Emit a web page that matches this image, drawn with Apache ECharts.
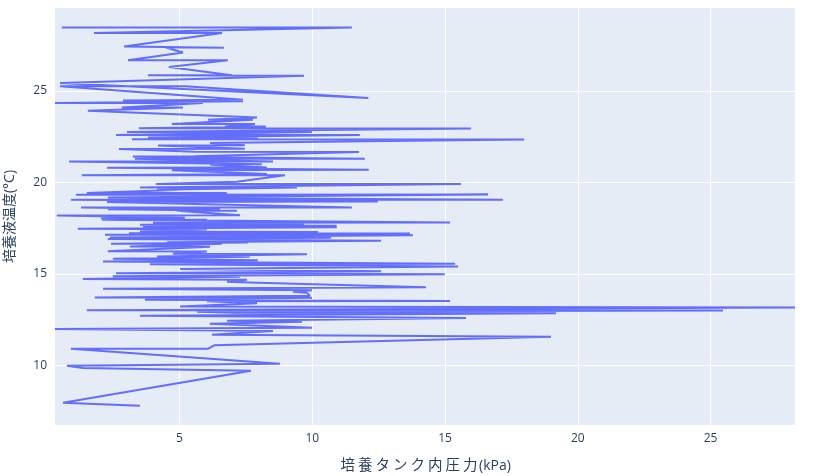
<!DOCTYPE html>
<html><head><meta charset="utf-8">
<script src="https://cdn.jsdelivr.net/npm/echarts@6/dist/echarts.min.js"></script>
<style>html,body{margin:0;padding:0;background:#fff}#c{width:814px;height:476px}</style>
</head><body><div id="c"></div>
<script>
const pressure = [3.51,0.61,7.69,1.36,0.76,8.78,0.91,6.07,6.30,18.99,6.22,8.52,0.31,9.99,6.14,9.61,6.79,15.79,3.51,19.18,7.16,5.66,25.47,1.51,28.18,5.02,7.92,6.03,15.19,3.70,9.99,1.81,9.91,9.80,9.27,9.99,2.12,14.28,7.95,6.79,7.54,1.36,7.27,2.49,14.99,2.61,12.59,5.02,15.49,3.89,15.38,2.12,7.95,2.49,7.65,4.15,9.80,4.75,6.03,2.30,6.15,3.13,6.60,2.42,7.58,4.53,12.59,2.30,10.71,2.38,13.79,2.19,13.68,3.10,10.22,3.51,6.03,1.17,10.92,3.62,10.92,3.51,9.69,4.00,15.19,2.08,6.03,2.04,5.20,0.38,7.28,4.90,7.16,2.30,6.52,1.29,11.49,2.27,12.47,0.91,17.18,2.30,16.62,1.10,6.78,1.51,5.13,4.15,9.42,3.51,15.60,4.11,7.16,8.97,1.32,8.29,4.71,12.13,2.27,8.29,6.15,8.10,0.84,8.52,3.32,11.98,3.24,5.58,11.76,5.58,2.72,7.46,4.19,7.46,6.15,17.98,3.21,7.95,3.81,11.79,2.61,9.99,3.02,15.98,3.47,8.25,6.71,7.84,4.71,7.76,6.07,7.92,1.55,5.13,2.83,5.88,0.31,7.39,2.87,7.39,0.50,5.20,12.11,0.50,9.69,3.81,6.97,4.60,6.82,3.06,5.13,4.45,6.67,2.91,6.60,1.78,11.49,0.57];
const temperature = [7.80,7.96,9.71,9.87,9.98,10.09,10.91,10.91,11.10,11.57,11.68,11.89,12.00,12.06,12.28,12.39,12.44,12.59,12.72,12.85,12.88,12.93,13.00,13.02,13.17,13.22,13.40,13.51,13.52,13.59,13.70,13.72,13.81,13.97,14.03,14.11,14.19,14.27,14.52,14.57,14.68,14.72,14.85,14.87,14.99,15.04,15.15,15.27,15.41,15.53,15.56,15.68,15.75,15.83,15.94,15.96,16.08,16.10,16.23,16.24,16.49,16.50,16.65,16.65,16.72,16.73,16.81,16.91,16.98,16.99,17.12,17.14,17.21,17.22,17.30,17.32,17.44,17.47,17.55,17.60,17.63,17.69,17.72,17.80,17.81,17.96,17.96,18.05,18.07,18.20,18.21,18.45,18.45,18.53,18.54,18.63,18.63,18.93,18.96,19.05,19.05,19.18,19.34,19.33,19.42,19.42,19.60,19.60,19.73,19.73,19.91,19.91,20.04,20.39,20.39,20.46,20.67,20.69,20.80,20.81,20.97,20.99,21.15,21.15,21.30,21.30,21.42,21.43,21.66,21.68,21.83,21.84,22.02,22.03,22.15,22.35,22.36,22.46,22.46,22.59,22.59,22.75,22.75,22.95,22.96,23.06,23.06,23.19,23.19,23.43,23.43,23.55,23.92,24.10,24.10,24.34,24.34,24.43,24.48,24.52,25.25,25.26,24.61,25.43,25.83,25.85,25.86,26.31,26.67,26.67,27.10,27.39,27.36,27.43,28.16,28.16,28.47,28.47];
const xTicks = [5,10,15,20,25];
const yTicks = [10,15,20,25];
const xTitle = '培養タンク内圧力(kPa)';
const yTitle = '培養液温度(°C)';

const FONT = '"Open Sans", "Noto Sans CJK JP", sans-serif';
const chart = echarts.init(document.getElementById('c'), null, {renderer:'canvas'});
const data = pressure.map((p,i)=>[p, temperature[i]]);
// wide-pitch CJK glyphs in the x title, as in the reference
function richTitle(s){
  let out = '', latin = '';
  for (const ch of s){
    if (/[\u3000-\u9fff]/.test(ch)) { if (latin){ out += '{l|'+latin+'}'; latin=''; } out += '{c|'+ch+'}'; }
    else latin += ch;
  }
  if (latin) out += '{l|'+latin+'}';
  return out;
}
function axisCommon(ticks){
  return {
    type:'value',
    axisLine:{show:false}, axisTick:{show:false},
    splitLine:{show:true, showMinLine:false, showMaxLine:false, lineStyle:{color:'#ffffff', width:1}},
    axisLabel:{color:'#2a3f5f', fontSize:12, fontFamily:FONT, showMinLabel:false, showMaxLabel:false, margin:8,
      formatter:v => ticks.includes(Math.round(v*1000)/1000) ? String(v) : ''},
    nameTextStyle:{color:'#2a3f5f', fontSize:14, fontFamily:FONT}
  };
}
chart.setOption({
  animation:false,
  backgroundColor:'#ffffff',
  grid:{left:55, right:19, top:8, bottom:51, show:true, backgroundColor:'#E5ECF6', borderWidth:0, containLabel:false, outerBoundsMode:'none'},
  xAxis:Object.assign(axisCommon(xTicks), {min:0.31, max:28.18, name:richTitle(xTitle), nameLocation:'middle', nameGap:34,
    nameTextStyle:{color:'#2a3f5f', fontSize:14, fontFamily:FONT,
      rich:{c:{width:17.5, align:'center', fontSize:14.5, color:'#2a3f5f', fontFamily:FONT},
            l:{fontSize:14, color:'#2a3f5f', fontFamily:FONT}}}}),
  yAxis:Object.assign(axisCommon(yTicks), {min:6.75, max:29.53, name:yTitle, nameLocation:'middle', nameGap:38}),
  series:[{type:'line', data:data, showSymbol:false, symbol:'none', lineStyle:{color:'#636EFA', width:2}, itemStyle:{color:'#636EFA'}, clip:true}]
});
</script></body></html>
